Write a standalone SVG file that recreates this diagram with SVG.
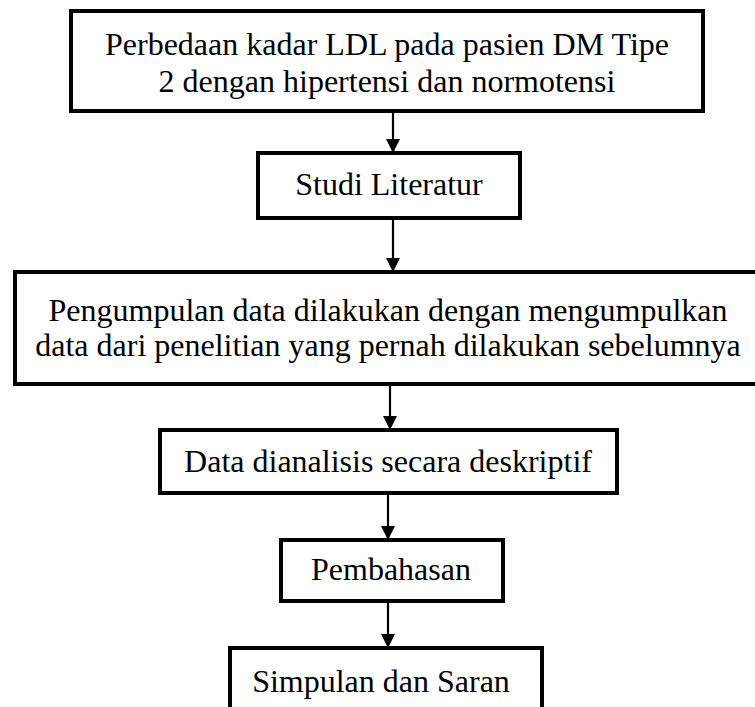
<svg xmlns="http://www.w3.org/2000/svg" width="755" height="707" viewBox="0 0 755 707">
<style>
.box{fill:#fff;stroke:#000;stroke-width:4}
.t{font-family:"Liberation Serif","Times New Roman",serif;font-size:32px;fill:#000;text-anchor:middle}
.c{stroke:#000;stroke-width:2.2;fill:none;marker-end:url(#ah)}
</style>
<defs>
<marker id="ah" viewBox="0 0 14 16" refX="14" refY="8" markerWidth="14" markerHeight="16" markerUnits="userSpaceOnUse" orient="auto">
<path d="M0,1 L14,8 L0,15 Z" fill="#000"/>
</marker>
</defs>
<rect width="755" height="707" fill="#fff"/>
<g id="connectors">
<line class="c" x1="393" y1="111" x2="393" y2="153"/>
<line class="c" x1="393" y1="218" x2="393" y2="272"/>
<line class="c" x1="390" y1="384" x2="390" y2="430"/>
<line class="c" x1="388" y1="493" x2="388" y2="540"/>
<line class="c" x1="388" y1="601" x2="388" y2="648"/>
</g>
<g id="n1">
<rect class="box" x="71" y="11" width="632" height="100"/>
<text class="t" x="387" y="55">Perbedaan kadar LDL pada pasien DM Tipe</text>
<text class="t" x="387" y="92">2 dengan hipertensi dan normotensi</text>
</g>
<g id="n2">
<rect class="box" x="258" y="153" width="262" height="65"/>
<text class="t" x="389" y="195">Studi Literatur</text>
</g>
<g id="n3">
<rect class="box" x="15" y="272" width="745" height="112"/>
<text class="t" x="388" y="321">Pengumpulan data dilakukan dengan mengumpulkan</text>
<text class="t" x="388" y="356">data dari penelitian yang pernah dilakukan sebelumnya</text>
</g>
<g id="n4">
<rect class="box" x="160" y="430" width="457" height="63"/>
<text class="t" x="388" y="472">Data dianalisis secara deskriptif</text>
</g>
<g id="n5">
<rect class="box" x="281" y="540" width="222" height="61"/>
<text class="t" x="391" y="580">Pembahasan</text>
</g>
<g id="n6">
<rect class="box" x="230" y="648" width="312" height="64"/>
<text class="t" x="381" y="692">Simpulan dan Saran</text>
</g>
</svg>
